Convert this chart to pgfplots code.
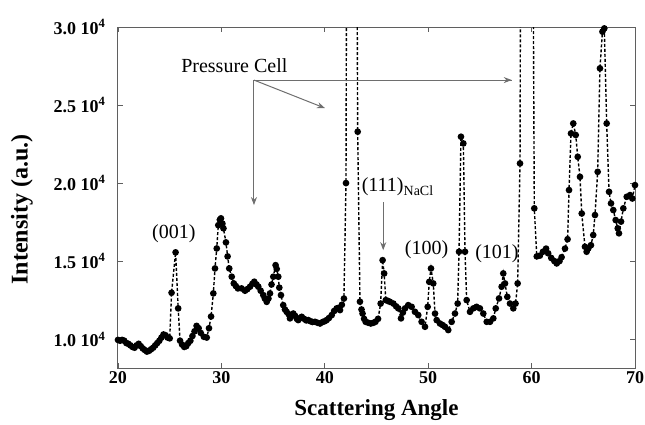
\documentclass[border=0pt]{standalone}
\usepackage{fontspec}
\setmainfont{Liberation Serif}
\usepackage{pgfplots}
\usepackage{pgfplotstable}
\pgfplotsset{compat=1.18}
\usetikzlibrary{arrows.meta}
\pgfplotstableread{
x y
20.0 9950
20.2 9900
20.4 9950
20.6 9900
20.8 9750
21.0 9700
21.2 9600
21.4 9500
21.6 9450
21.8 9600
22.0 9700
22.2 9550
22.4 9400
22.6 9300
22.8 9200
23.0 9250
23.2 9350
23.4 9450
23.6 9600
23.8 9750
24.0 9900
24.2 10100
24.4 10300
24.6 10250
24.8 10100
25.0 10050
25.18 12970
25.57 15560
25.82 11970
26.0 9900
26.2 9650
26.4 9500
26.6 9550
26.8 9750
27.0 9900
27.2 10200
27.4 10500
27.6 10850
27.8 10700
28.0 10400
28.3 10150
28.58 10100
28.8 10700
29.0 11450
29.22 12930
29.38 14530
29.55 15810
29.7 17300
29.85 17650
29.96 17740
30.1 17400
30.2 17100
30.44 16200
30.6 15300
30.76 14530
31.0 14000
31.2 13570
31.4 13400
31.6 13250
31.95 13250
32.28 13100
32.5 13200
32.77 13360
33.0 13550
33.18 13680
33.4 13500
33.57 13360
33.8 13100
34.05 12820
34.2 12600
34.38 12390
34.55 12600
34.70 12930
34.85 13500
35.02 14000
35.24 14740
35.35 14500
35.50 14000
35.6 13300
35.76 12820
35.98 12180
36.15 11900
36.31 11750
36.5 11600
36.63 11330
36.8 11500
36.95 11640
37.12 11500
37.3 11300
37.43 11220
37.6 11350
37.77 11430
38.0 11300
38.2 11200
38.4 11220
38.6 11150
38.8 11100
39.05 11110
39.3 11050
39.54 11000
39.8 11100
40.0 11150
40.18 11220
40.4 11350
40.67 11540
40.9 11800
41.15 11970
41.3 12000
41.47 11860
41.65 12200
41.85 12600
42.05 20000
42.3 90000
42.6 150000
42.9 70000
43.18 23290
43.4 12400
43.55 11900
43.65 11640
43.8 11300
43.95 11110
44.2 11050
44.45 11000
44.7 11050
44.9 11110
45.15 11300
45.4 12280
45.59 15060
45.74 14210
45.9 12500
46.1 12450
46.3 12390
46.63 12280
46.9 12100
47.11 11970
47.37 11330
47.55 11700
47.76 11970
48.07 12180
48.4 12070
48.72 11750
49.04 11540
49.36 11110
49.69 10790
49.95 12070
50.1 13670
50.27 14530
50.49 13570
50.66 11640
50.82 11220
51.14 11000
51.4 10900
51.62 10790
51.94 10580
52.27 11110
52.59 11640
52.85 12280
52.98 15600
53.17 22970
53.4 22540
53.56 15600
53.72 12500
54.04 11750
54.36 11970
54.68 12070
55.0 11970
55.33 11640
55.66 11110
55.98 11110
56.3 11330
56.53 11970
56.85 12610
57.1 13360
57.26 14210
57.43 13570
57.65 12710
57.91 12280
58.23 11970
58.45 12280
58.65 13570
58.88 21260
59.1 80000
59.5 150000
59.9 70000
60.26 18380
60.5 15300
60.8 15350
61.1 15600
61.4 15800
61.6 15500
61.9 15200
62.2 15000
62.43 14850
62.7 15000
62.9 15250
63.23 15800
63.48 16400
63.62 19550
63.81 23180
64.03 23820
64.27 23080
64.46 21680
64.68 20400
64.85 18050
65.16 15920
65.32 15600
65.48 15810
65.74 16020
65.96 16670
66.13 17950
66.39 20720
66.61 27350
66.85 29700
67.03 29910
67.26 23820
67.49 19440
67.68 18700
67.90 18270
68.13 17630
68.33 17100
68.45 16780
68.65 17530
68.87 18380
69.2 19120
69.52 19230
69.74 19010
70.0 19870
}\xrd
\definecolor{axgray}{RGB}{95,95,95}
\definecolor{arrgray}{RGB}{110,110,110}
\begin{document}
\begin{tikzpicture}
\useasboundingbox (-118pt,-56pt) rectangle (527pt,368pt);
\begin{axis}[
  at={(0,0)}, anchor=south west,
  scale only axis, width=517pt, height=341pt,
  xmin=20, xmax=70, ymin=8150, ymax=30000,
  xtick={20,30,40,50,60,70},
  xticklabels={20,30,40,50,60,70},
  ytick={10000,15000,20000,25000,30000},
  yticklabels={1.0 10\textsuperscript{4},1.5 10\textsuperscript{4},2.0 10\textsuperscript{4},2.5 10\textsuperscript{4},3.0 10\textsuperscript{4}},
  tick align=inside, major tick length=5pt, minor tick num=0,
  axis line style={axgray, line width=1pt},
  every tick/.style={axgray, line width=0.8pt},
  tick label style={font=\fontsize{18}{18}\selectfont\bfseries, black},
  yticklabel style={xshift=-9pt},
  xticklabel style={yshift=0pt},
  xlabel={Scattering Angle},
  ylabel={Intensity (a.u.)},
  every axis x label/.style={at={(axis description cs:0.5,0)}, anchor=center, yshift=-42pt, font=\fontsize{23}{23}\selectfont\bfseries},
  every axis y label/.style={at={(axis description cs:0,0.465)}, anchor=center, rotate=90, yshift=96pt, font=\fontsize{24}{24}\selectfont\bfseries},
  scaled y ticks=false,
]
\addplot[black, densely dashed, line width=1.4pt, mark=*, mark size=2.6pt, mark options={solid, fill=black}] table[x=x, y=y] {\xrd};
\draw[arrgray, line width=1pt] (axis cs:33.15,26600) -- (axis cs:58.08,26600);
\draw[arrgray, line width=1pt, -{Stealth[length=8pt,width=6pt]}] (axis cs:52,26600) -- (axis cs:58.08,26600);
\draw[arrgray, line width=1pt, -{Stealth[length=8pt,width=6pt]}] (axis cs:33.15,26600) -- (axis cs:33.15,18590);
\draw[arrgray, line width=1pt, -{Stealth[length=8pt,width=6pt]}] (axis cs:33.15,26600) -- (axis cs:40.02,24800);
\draw[arrgray, line width=1pt, -{Stealth[length=8pt,width=6pt]}] (axis cs:45.65,18780) -- (axis cs:45.65,15700);
\node[anchor=east, font=\fontsize{20}{20}\selectfont, inner sep=0pt] at (axis cs:36.4,27500) {Pressure Cell};
\node[font=\fontsize{20}{20}\selectfont, inner sep=0pt] at (axis cs:25.4,16730) {(001)};
\node[anchor=west, font=\fontsize{20}{20}\selectfont, inner sep=0pt] at (axis cs:43.56,19740) {(111)\textsubscript{NaCl}};
\node[font=\fontsize{20}{20}\selectfont, inner sep=0pt] at (axis cs:49.85,15700) {(100)};
\node[font=\fontsize{20}{20}\selectfont, inner sep=0pt] at (axis cs:56.65,15500) {(101)};
\end{axis}
\end{tikzpicture}
\end{document}
